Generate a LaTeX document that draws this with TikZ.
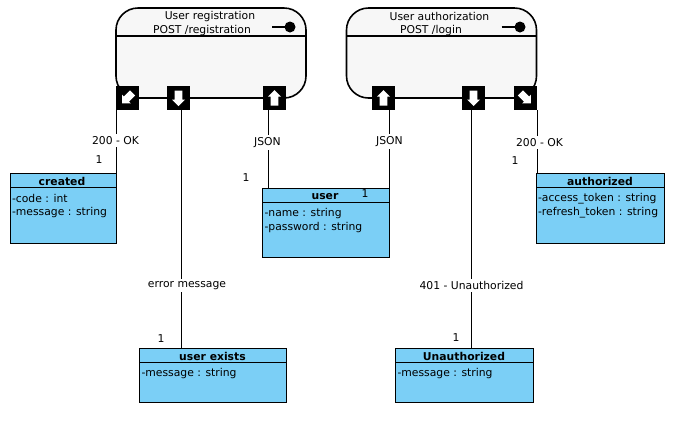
\documentclass[tikz,border=0pt]{standalone}
\usepackage{fontspec}
\setmainfont{DejaVu Sans}
\definecolor{classblue}{HTML}{7BCFF6}
\definecolor{statefill}{HTML}{F7F7F7}
\newcommand{\fs}{\fontsize{10.8bp}{12bp}\selectfont}
\tikzset{
  statebox/.style={draw=black,line width=1.6bp,fill=statefill,rounded corners=22bp,minimum width=190bp,minimum height=90bp,anchor=north west,inner sep=0pt,outer sep=0pt},
  classbox/.style={draw=black,line width=0.8bp,fill=classblue,anchor=north west,inner sep=0pt,outer sep=0pt},
  portbox/.style={fill=black,minimum width=23bp,minimum height=24bp,anchor=north west,inner sep=0pt,outer sep=0pt},
  txt/.style={inner sep=0pt,outer sep=0pt,font=\fs,yshift=-1.2bp},
  head/.style={txt,font=\fs\bfseries},
  attr/.style={txt,anchor=west,yshift=-1bp},
  lbl/.style={txt,fill=white,inner xsep=1bp,inner ysep=2.5bp},
  conn/.style={draw=black,line width=0.8bp},
  sep/.style={draw=black,line width=1.2bp},
  ball/.style={circle,fill=black,minimum size=11bp,inner sep=0pt,outer sep=0pt},
  arrowup/.pic={\fill[white] (-3.8,7.5)--(-3.8,-1.5)--(-6.5,-1.5)--(0,-8)--(6.5,-1.5)--(3.8,-1.5)--(3.8,7.5)--cycle;},
}
\begin{document}
\begin{tikzpicture}[x=1bp,y=-1bp]
\useasboundingbox[fill=white] (0,0) rectangle (677,426);
% states
\node[statebox] (reg) at (116,8) {};
\node[statebox] (auth) at (346.5,8) {};
\draw[sep] (116,36) -- (306,36);
\draw[sep] (346.5,36) -- (536.5,36);
\node[txt] (regt1) at (210,15) {User registration};
\node[txt] (regt2) at (202,29) {POST /registration};
\node[txt] (autht1) at (439.5,15) {User authorization};
\node[txt] (autht2) at (431,29) {POST /login};
\node[ball] (regb) at (290,27) {};
\node[ball] (authb) at (520,27) {};
\coordinate (regl) at (272,27);
\coordinate (authl) at (501.5,27);
\draw[black,line width=1.2bp] (regl) -- (regb);
\draw[black,line width=1.2bp] (authl) -- (authb);
% ports
\node[portbox] (p1) at (116,86) {};
\node[portbox] (p2) at (167,86) {};
\node[portbox] (p3) at (263,86) {};
\node[portbox] (p4) at (372,86) {};
\node[portbox] (p5) at (462,86) {};
\node[portbox] (p6) at (514,86) {};
\pic[rotate=135,scale=0.95] at (p1.center) {arrowup};
\pic[rotate=180] at (p2.center) {arrowup};
\pic at (p3.center) {arrowup};
\pic at (p4.center) {arrowup};
\pic[rotate=180] at (p5.center) {arrowup};
\pic[rotate=-135,scale=0.95] at (p6.center) {arrowup};
% classes
\node[classbox,minimum width=106bp,minimum height=70bp] (created) at (10.5,173) {};
\node[classbox,minimum width=127bp,minimum height=69bp] (user) at (262.5,188.5) {};
\node[classbox,minimum width=147bp,minimum height=54bp] (exists) at (139.5,348.5) {};
\node[classbox,minimum width=138bp,minimum height=54bp] (unauth) at (395.5,348.5) {};
\node[classbox,minimum width=128bp,minimum height=70bp] (authd) at (536,173) {};
\draw[conn] (10.5,187) -- (116.5,187);
\draw[conn] (262.5,202.5) -- (389.5,202.5);
\draw[conn] (139.5,362.5) -- (286.5,362.5);
\draw[conn] (395.5,362.5) -- (533.5,362.5);
\draw[conn] (536,187) -- (664,187);
\node[head] (createdh) at (62,180) {created};
\node[attr] (createda) at (12,196) {-code : int};
\node[attr] (createdb) at (12,210) {-message : string};
\node[head] (userh) at (325,195.5) {user};
\node[attr] (usera) at (264.5,211) {-name : string};
\node[attr] (userb) at (264.5,225) {-password : string};
\node[head] (existsh) at (212.5,355.5) {user exists};
\node[attr] (existsa) at (141.5,371) {-message : string};
\node[head] (unauthh) at (464,355.5) {Unauthorized};
\node[attr] (unautha) at (397.5,371) {-message : string};
\node[head] (authdh) at (600,180) {authorized};
\node[attr] (authda) at (538,196) {-access\_token : string};
\node[attr] (authdb) at (538,210) {-refresh\_token : string};
% connectors
\draw[conn] ([xshift=0.5bp]p1.south west) -- ([xshift=0.5bp]p1.south west |- created.north);
\draw[conn] ([xshift=3bp]p2.south) -- ([xshift=3bp]p2.south |- exists.north);
\draw[conn] ([xshift=-6.5bp]p3.south) -- ([xshift=-6.5bp]p3.south |- user.north);
\draw[conn] ([xshift=6bp]p4.south) -- ([xshift=6bp]p4.south |- user.north);
\draw[conn] ([xshift=-2.5bp]p5.south) -- ([xshift=-2.5bp]p5.south |- unauth.north);
\draw[conn] ([xshift=0.5bp]p6.south east) -- ([xshift=0.5bp]p6.south east |- authd.north);
% connector labels
\node[lbl] (l1) at (115.5,139) {200 - OK};
\node[lbl] (l2) at (187,284) {error message};
\node[lbl] (l3) at (267.5,141) {JSON};
\node[lbl] (l4) at (389.5,140.5) {JSON};
\node[lbl] (l5) at (471.5,284) {401 - Unauthorized};
\node[lbl] (l6) at (539.5,141) {200 - OK};
% multiplicities
\node[txt] (m1) at (99,158) {1};
\node[txt] (m2) at (246,176) {1};
\node[txt] (m3) at (365,192) {1};
\node[txt] (m4) at (161,337) {1};
\node[txt] (m5) at (456,336) {1};
\node[txt] (m6) at (515,159) {1};
\end{tikzpicture}
\end{document}
